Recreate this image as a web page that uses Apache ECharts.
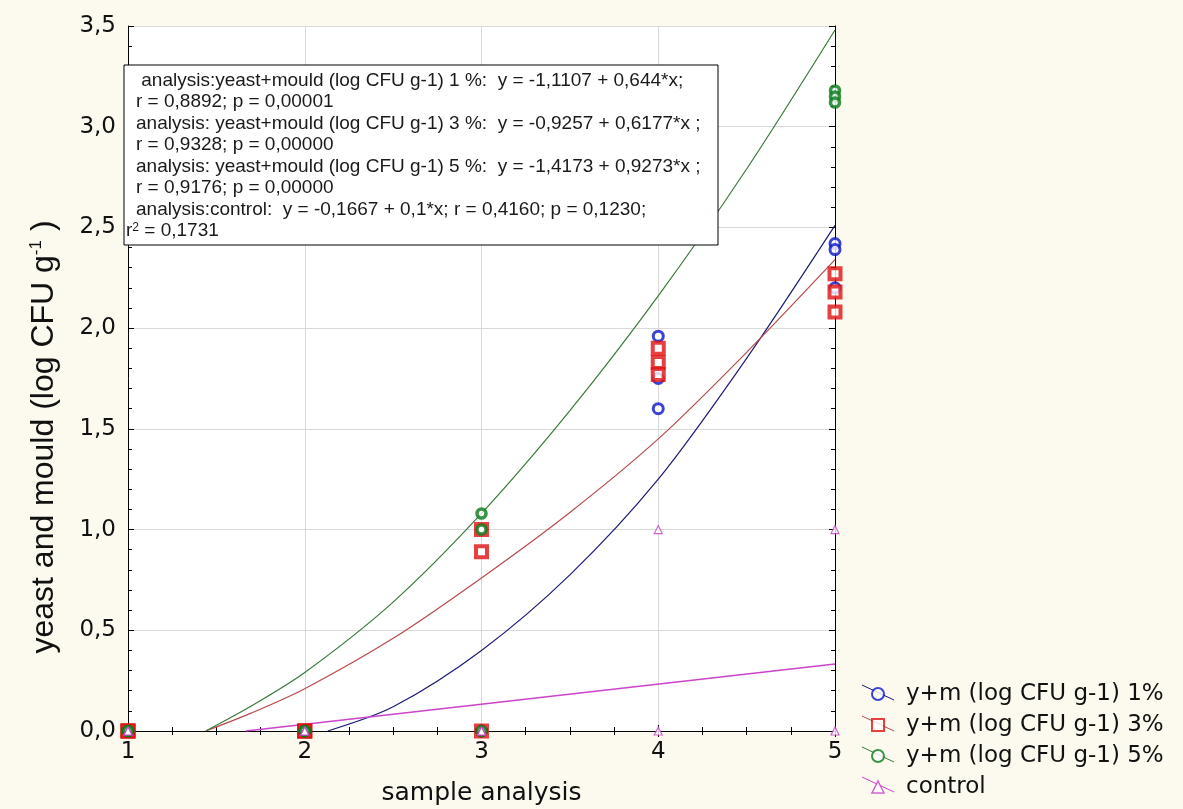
<!DOCTYPE html>
<html><head><meta charset="utf-8">
<script src="https://cdn.jsdelivr.net/npm/echarts@6/dist/echarts.min.js"></script>
<style>html,body{margin:0;padding:0;background:#fcf9ef;}#c{width:1183px;height:809px;}</style>
</head><body><div id="c"></div>
<script>
// ---- data ----
const xTicks = [1, 2, 3, 4, 5];
const seriesNames = ['y+m (log CFU g-1) 1%', 'y+m (log CFU g-1) 3%', 'y+m (log CFU g-1) 5%', 'control'];

const pts1 = [[1,0],[1,0],[1,0],[2,0],[2,0],[2,0],[3,0],[3,0],[3,0],[4,1.96],[4,1.75],[4,1.60],[5,2.42],[5,2.39],[5,2.20]];
const pts3 = [[1,0],[1,0],[1,0],[2,0],[2,0],[2,0],[3,1.00],[3,0.89],[3,0],[4,1.90],[4,1.83],[4,1.77],[5,2.27],[5,2.18],[5,2.08]];
const pts5 = [[1,0],[1,0],[1,0],[2,0],[2,0],[2,0],[3,1.08],[3,1.00],[3,0],[5,3.18],[5,3.15],[5,3.12]];
const ptsC = [[1,0],[1,0],[1,0],[2,0],[2,0],[2,0],[3,0],[3,0],[3,0],[4,1.00],[4,0],[5,1.00],[5,0]];

// fitted curves as drawn in the picture
const curve1 = [[2.13,0],[2.5,0.12],[3,0.40],[3.5,0.775],[4,1.25],[4.5,1.85],[5,2.51]];
const curve3 = [[1.44,0],[1.7,0.09],[2,0.21],[2.5,0.46],[3,0.76],[3.5,1.085],[4,1.45],[4.5,1.88],[5,2.34]];
const curve5 = [[1.44,0],[1.7,0.125],[2,0.29],[2.5,0.64],[3,1.08],[3.5,1.59],[4,2.16],[4.5,2.79],[5,3.48]];
const curveC = [[1.667,0],[5,0.333]];

const noteLines = [
  ' analysis:yeast+mould (log CFU g-1) 1 %:  y = -1,1107 + 0,644*x;',
  'r = 0,8892; p = 0,00001',
  'analysis: yeast+mould (log CFU g-1) 3 %:  y = -0,9257 + 0,6177*x ;',
  'r = 0,9328; p = 0,00000',
  'analysis: yeast+mould (log CFU g-1) 5 %:  y = -1,4173 + 0,9273*x ;',
  'r = 0,9176; p = 0,00000',
  'analysis:control:  y = -0,1667 + 0,1*x; r = 0,4160; p = 0,1230;',
  'r{sup|2} = 0,1731'
];
const xName = 'sample analysis';
const yNameRich = 'yeast and mould (log CFU g{sup|-1} )';

// ---- styles ----
const C1 = '#0a14c8', C1L = '#1c1c78';
const C3 = '#e01010', C3L = '#b84a4a';
const C5 = '#0a7a1a', C5L = '#3a7a3a';
const CC = '#c040c0', CCL = '#cc44cc';
const tickFont = 'DejaVu Sans';

const chart = echarts.init(document.getElementById('c'));

const axisCommon = {
  axisLine: {show: true, lineStyle: {color: '#000', width: 1}},
  axisTick: {show: true, inside: true, length: 6, lineStyle: {color: '#000'}},
};

const graphic = [];
// annotation box
graphic.push({type: 'rect', z: 100, shape: {x: 124, y: 65, width: 594, height: 180},
  style: {fill: '#fff', stroke: '#000', lineWidth: 1}});
const lineYs = [81, 102, 124, 145, 167, 188, 210, 231];
noteLines.forEach((t, i) => {
  graphic.push({type: 'text', z: 101, x: i === 7 ? 126 : 136, y: lineYs[i],
    style: {text: t, fill: '#1a1a1a', font: '19px "Liberation Sans"', textVerticalAlign: 'middle',
      rich: {sup: {fontSize: 12, fontFamily: 'Liberation Sans', verticalAlign: 'top', lineHeight: 12, fill: '#1a1a1a'}}}});
});
// y axis title
graphic.push({type: 'text', z: 50, x: 44, y: 437, rotation: Math.PI / 2,
  style: {text: yNameRich, fill: '#111', font: '32px "Liberation Sans"', textAlign: 'center', textVerticalAlign: 'middle',
    rich: {sup: {fontSize: 17, fontFamily: 'Liberation Sans', fill: '#111', verticalAlign: 'top', lineHeight: 20}}}});
// legend diagonal strokes
const legLineCols = [C1L, C3L, C5L, CCL];
const legYs = [693, 724, 755, 785];
legLineCols.forEach((c, i) => {
  graphic.push({type: 'line', z: 1, shape: {x1: 862, y1: legYs[i] - 8, x2: 894, y2: legYs[i] + 7},
    style: {stroke: c, lineWidth: 1}});
});

const option = {
  backgroundColor: '#fcf9ef',
  animation: false,
  grid: {left: 128, right: 348, top: 26, bottom: 78, show: true, backgroundColor: '#ffffff', borderWidth: 0,
    containLabel: false, outerBoundsMode: 'none'},
  xAxis: [{
    type: 'value', min: 1, max: 5, interval: 1, position: 'bottom',
    ...axisCommon,
    minorTick: {show: true, splitNumber: 4, length: 4, lineStyle: {color: '#000'}},
    splitLine: {show: true, lineStyle: {color: '#d9d9d9', width: 1}},
    axisLabel: {show: true, margin: 10, color: '#111', fontFamily: tickFont, fontSize: 23,
      formatter: v => xTicks.includes(v) ? String(v) : ''},
    name: xName, nameLocation: 'middle', nameGap: 50,
    nameTextStyle: {color: '#111', fontFamily: tickFont, fontSize: 25}
  }, {
    type: 'value', min: 1, max: 5, interval: 1, position: 'top',
    ...axisCommon,
    minorTick: {show: true, splitNumber: 4, length: 4, lineStyle: {color: '#000'}},
    splitLine: {show: false}, axisLabel: {show: false}
  }],
  yAxis: [{
    type: 'value', min: 0, max: 3.5, interval: 0.5, position: 'left',
    ...axisCommon,
    minorTick: {show: true, splitNumber: 5, length: 4, lineStyle: {color: '#000'}},
    splitLine: {show: true, lineStyle: {color: '#d9d9d9', width: 1}},
    axisLabel: {show: true, margin: 12, color: '#111', fontFamily: tickFont, fontSize: 23,
      formatter: v => v.toFixed(1).replace('.', ',')}
  }, {
    type: 'value', min: 0, max: 3.5, interval: 0.5, position: 'right',
    ...axisCommon,
    minorTick: {show: true, splitNumber: 5, length: 4, lineStyle: {color: '#000'}},
    splitLine: {show: false}, axisLabel: {show: false}
  }],
  legend: {
    orient: 'vertical', left: 866, top: 677, itemWidth: 12, itemHeight: 12, itemGap: 7,
    textStyle: {color: '#111', fontFamily: tickFont, fontSize: 23, lineHeight: 24, padding: [0, 0, 0, 17]},
    data: [
      {name: seriesNames[0], icon: 'circle', itemStyle: {color: '#fff', borderColor: C1, borderWidth: 2}},
      {name: seriesNames[1], icon: 'rect', itemStyle: {color: '#fff', borderColor: C3, borderWidth: 2}},
      {name: seriesNames[2], icon: 'circle', itemStyle: {color: '#fff', borderColor: C5, borderWidth: 2}},
      {name: seriesNames[3], icon: 'triangle', itemStyle: {color: '#fff', borderColor: CC, borderWidth: 1.5}}
    ]
  },
  graphic: graphic,
  series: [
    {name: 'fit1', type: 'line', data: curve1, smooth: 0.3, showSymbol: false, lineStyle: {color: C1L, width: 1.2}, z: 2},
    {name: 'fit3', type: 'line', data: curve3, smooth: 0.3, showSymbol: false, lineStyle: {color: C3L, width: 1.2}, z: 2},
    {name: 'fit5', type: 'line', data: curve5, smooth: 0.3, showSymbol: false, lineStyle: {color: C5L, width: 1.2}, z: 2},
    {name: 'fitC', type: 'line', data: curveC, showSymbol: false, lineStyle: {color: CCL, width: 1.6}, z: 2},
    {name: seriesNames[0], type: 'scatter', data: pts1, symbol: 'circle', symbolSize: 10,
      itemStyle: {color: '#fff', borderColor: C1, borderWidth: 3}, z: 3},
    {name: seriesNames[1], type: 'scatter', data: pts3, symbol: 'rect', symbolSize: 11,
      itemStyle: {color: '#fff', borderColor: C3, borderWidth: 4}, z: 3},
    {name: seriesNames[2], type: 'scatter', data: pts5, symbol: 'circle', symbolSize: 9,
      itemStyle: {color: '#fff', borderColor: C5, borderWidth: 3.6}, z: 3},
    {name: seriesNames[3], type: 'scatter', data: ptsC, symbol: 'triangle', symbolSize: 8,
      itemStyle: {color: '#fff', borderColor: CC, borderWidth: 1.2}, z: 3}
  ]
};
chart.setOption(option);
</script></body></html>
